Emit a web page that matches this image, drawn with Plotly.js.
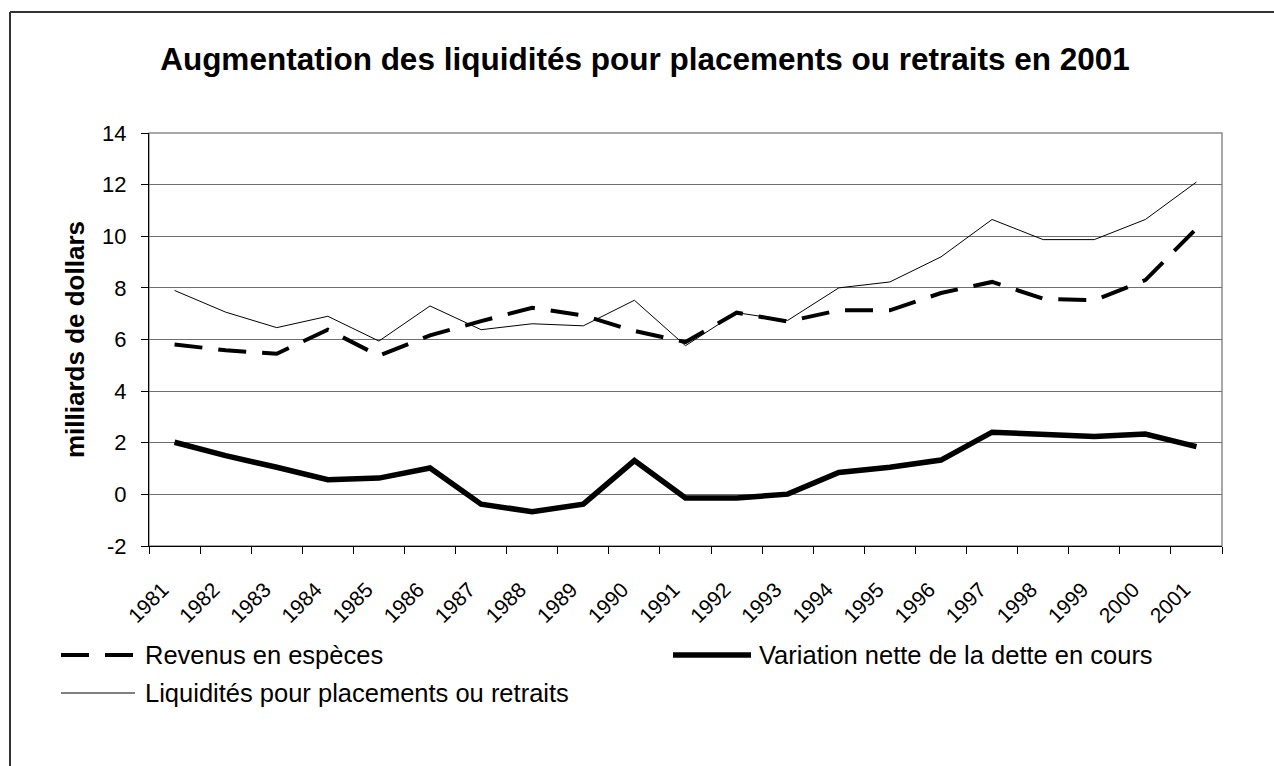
<!DOCTYPE html>
<html>
<head>
<meta charset="utf-8">
<script src="https://cdn.plot.ly/plotly-3.0.1.min.js"></script>
<style>
  html, body { margin: 0; padding: 0; background: #ffffff; }
  #chart { width: 1274px; height: 766px; }
</style>
</head>
<body>
<div id="chart"></div>
<script>
// ---- Data (milliards de dollars) ----
const years = ["1981","1982","1983","1984","1985","1986","1987","1988","1989","1990","1991",
               "1992","1993","1994","1995","1996","1997","1998","1999","2000","2001"];
const revenus = [5.81, 5.58, 5.45, 6.38, 5.37, 6.16, 6.71, 7.23, 6.93, 6.33, 5.90,
                 7.04, 6.70, 7.13, 7.13, 7.80, 8.23, 7.58, 7.52, 8.30, 10.30];
const variation = [2.02, 1.50, 1.05, 0.57, 0.63, 1.02, -0.38, -0.67, -0.38, 1.31, -0.14,
                   -0.14, 0.01, 0.85, 1.05, 1.33, 2.41, 2.32, 2.24, 2.34, 1.85];
const liquidites = [7.90, 7.06, 6.46, 6.90, 5.94, 7.30, 6.38, 6.61, 6.53, 7.52, 5.76,
                    7.04, 6.74, 8.00, 8.23, 9.20, 10.65, 9.87, 9.87, 10.65, 12.10];
const names = ["Revenus en espèces", "Variation nette de la dette en cours",
               "Liquidités pour placements ou retraits"];
const titleText = "Augmentation des liquidités pour placements ou retraits en 2001";
const yTitle = "milliards de dollars";
const yTicks = [-2, 0, 2, 4, 6, 8, 10, 12, 14];

// ---- Layout geometry (pixels) ----
const W = 1274, H = 766;
const L = 149, R = 1222, T = 133, B = 546;
const px2x = p => (p - L) / (R - L);
const px2y = p => (B - p) / (B - T);

const FONT = "Liberation Sans, Arial, sans-serif";
const dashPat = "28px,16px";

const styles = [
  {color: "#000", width: 4, dash: dashPat},
  {color: "#000", width: 5.5, dash: "solid"},
  {color: "#000", width: 1, dash: "solid"}
];
const series = [revenus, variation, liquidites];

const traces = series.map((vals, i) => ({
  type: "scatter", mode: "lines", x: years, y: vals, name: names[i],
  line: {color: styles[i].color, width: styles[i].width, dash: styles[i].dash},
  showlegend: false, hoverinfo: "x+y+name"
}));

// manual legend (long symbols like the original)
const legendItems = [
  {i: 0, sx0: 61, sx1: 133, tx: 143, y: 655},
  {i: 1, sx0: 673, sx1: 751, tx: 757, y: 655},
  {i: 2, sx0: 61, sx1: 135, tx: 143, y: 693}
];

const shapes = [
  // plot area frame (grey)
  {type: "rect", xref: "paper", yref: "paper", x0: 0, x1: 1, y0: 0, y1: 1,
   line: {color: "#8c8c8c", width: 1.5}, layer: "below"},
  // outer chart border (left and top visible)
  {type: "line", xref: "paper", yref: "paper", x0: px2x(10), x1: px2x(10), y0: px2y(12), y1: px2y(H + 5),
   line: {color: "#333", width: 2}},
  {type: "line", xref: "paper", yref: "paper", x0: px2x(10), x1: px2x(W + 5), y0: px2y(12), y1: px2y(12),
   line: {color: "#333", width: 2}}
];
const annotations = [];
legendItems.forEach(it => {
  const s = styles[it.i];
  shapes.push({type: "line", xref: "paper", yref: "paper",
    x0: px2x(it.sx0), x1: px2x(it.sx1), y0: px2y(it.y), y1: px2y(it.y),
    line: {color: s.color, width: s.width, dash: s.dash}});
  annotations.push({xref: "paper", yref: "paper", x: px2x(it.tx), y: px2y(it.y),
    xanchor: "left", yanchor: "middle", showarrow: false, text: names[it.i],
    font: {family: FONT, size: 25.5, color: "#000"}});
});
// y-axis title
annotations.push({xref: "paper", yref: "paper", x: px2x(75), y: px2y(340),
  xanchor: "center", yanchor: "middle", showarrow: false, textangle: -90,
  text: "<b>" + yTitle + "</b>", font: {family: FONT, size: 26, color: "#000"}});

const layout = {
  width: W, height: H,
  paper_bgcolor: "#ffffff", plot_bgcolor: "#ffffff",
  margin: {l: L, r: W - R, t: T, b: H - B, pad: 0},
  font: {family: FONT, size: 22, color: "#000"},
  title: {text: "<b>" + titleText + "</b>", x: 645 / W, xref: "container", xanchor: "center",
          y: 1 - 59 / H, yref: "container", yanchor: "middle",
          font: {family: FONT, size: 31.5, color: "#000"}},
  xaxis: {type: "category", range: [-0.5, years.length - 0.5], tickson: "boundaries",
          ticks: "outside", ticklen: 7, tickcolor: "#000", tickwidth: 1,
          showline: true, linecolor: "#000", linewidth: 1, showgrid: false, zeroline: false,
          tickangle: -45, ticklabelshift: -12, ticklabelstandoff: 22,
          tickfont: {family: FONT, size: 21, color: "#000"},
          fixedrange: true},
  yaxis: {range: [-2, 14], tickvals: yTicks, ticktext: yTicks.map(String),
          ticks: "outside", ticklen: 7, tickcolor: "#000", tickwidth: 1,
          showline: true, linecolor: "#000", linewidth: 1,
          showgrid: true, gridcolor: "#6e6e6e", gridwidth: 1, zeroline: false,
          ticklabelstandoff: 10,
          tickfont: {family: FONT, size: 22, color: "#000"},
          fixedrange: true},
  shapes: shapes,
  annotations: annotations,
  showlegend: false
};

Plotly.newPlot("chart", traces, layout, {displayModeBar: false, staticPlot: true});
</script>
</body>
</html>
